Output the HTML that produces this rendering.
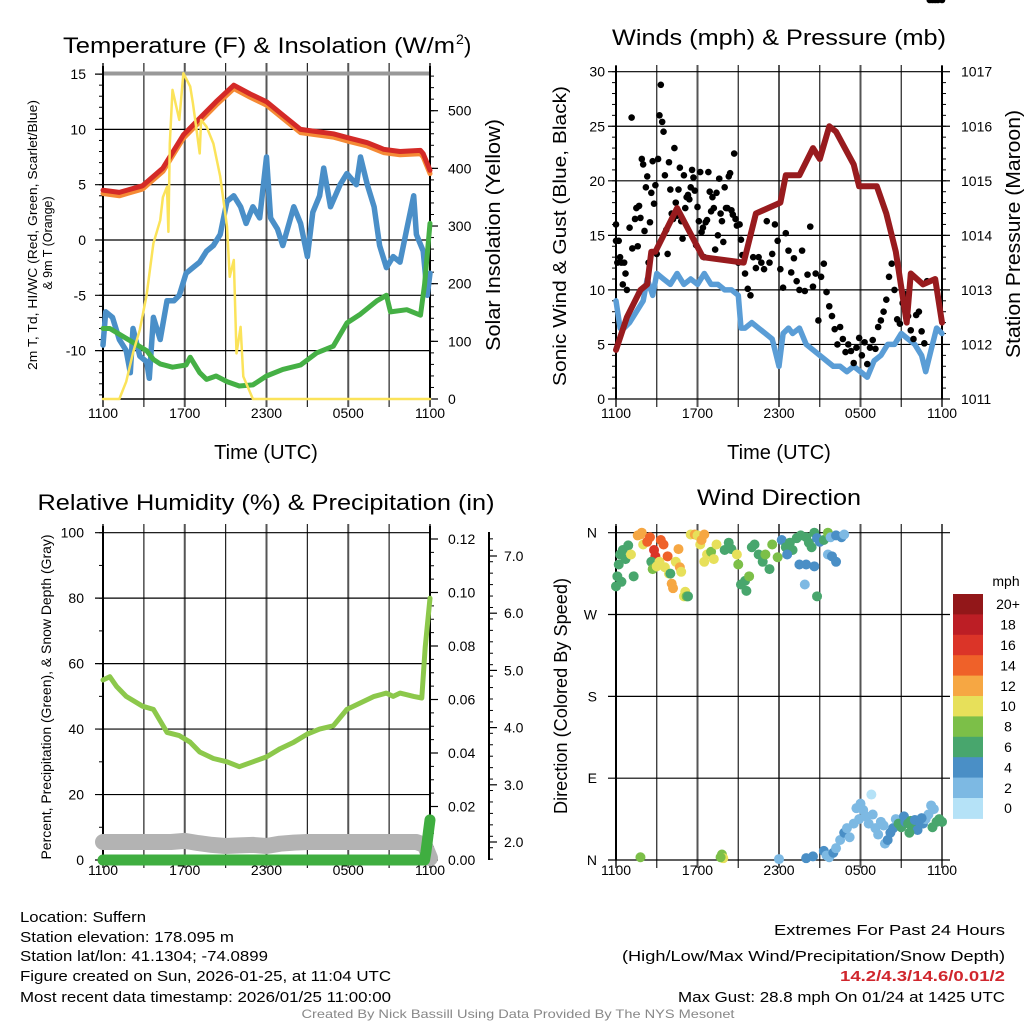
<!DOCTYPE html>
<html><head><meta charset="utf-8"><style>
html,body{margin:0;padding:0;background:#fff;}
svg{display:block;font-family:"Liberation Sans",sans-serif;}
</style></head><body>
<svg id="fig" width="1024" height="1024" viewBox="0 0 1024 1024" xmlns="http://www.w3.org/2000/svg">
<rect width="1024" height="1024" fill="#fff"/>
<g>
<text x="63" y="53" font-size="22" textLength="392" lengthAdjust="spacingAndGlyphs">Temperature (F) &amp; Insolation (W/m</text>
<text x="456" y="44" font-size="14">2</text>
<text x="464" y="53" font-size="22">)</text>
</g>
<text x="779" y="45" font-size="22" text-anchor="middle" textLength="334" lengthAdjust="spacingAndGlyphs">Winds (mph) &amp; Pressure (mb)</text>
<text x="266" y="510" font-size="22" text-anchor="middle" textLength="457" lengthAdjust="spacingAndGlyphs">Relative Humidity (%) &amp; Precipitation (in)</text>
<text x="779" y="505" font-size="22" text-anchor="middle" textLength="164" lengthAdjust="spacingAndGlyphs">Wind Direction</text>

<text x="266" y="459" font-size="20" text-anchor="middle">Time (UTC)</text>
<text x="779" y="459" font-size="20" text-anchor="middle">Time (UTC)</text>

<text transform="translate(37,235) rotate(-90)" font-size="12.5" text-anchor="middle" textLength="270" lengthAdjust="spacingAndGlyphs">2m T, Td, HI/WC (Red, Green, Scarlet/Blue)</text>
<text transform="translate(52,243) rotate(-90)" font-size="12.5" text-anchor="middle">&amp; 9m T (Orange)</text>
<text transform="translate(500,235) rotate(-90)" font-size="20" text-anchor="middle" textLength="232" lengthAdjust="spacingAndGlyphs">Solar Insolation (Yellow)</text>
<text transform="translate(566,236) rotate(-90)" font-size="18" text-anchor="middle" textLength="300" lengthAdjust="spacingAndGlyphs">Sonic Wind &amp; Gust (Blue, Black)</text>
<text transform="translate(1020,234) rotate(-90)" font-size="20" text-anchor="middle" textLength="248" lengthAdjust="spacingAndGlyphs">Station Pressure (Maroon)</text>
<text transform="translate(51,697) rotate(-90)" font-size="13.5" text-anchor="middle" textLength="325" lengthAdjust="spacingAndGlyphs">Percent, Precipitation (Green), &amp; Snow Depth (Gray)</text>
<text transform="translate(567,696) rotate(-90)" font-size="18" text-anchor="middle" textLength="236" lengthAdjust="spacingAndGlyphs">Direction (Colored By Speed)</text>

<g id="panels"></g>

<g font-size="15">
<text x="20" y="922" textLength="126" lengthAdjust="spacingAndGlyphs">Location: Suffern</text>
<text x="20" y="942" textLength="214" lengthAdjust="spacingAndGlyphs">Station elevation: 178.095 m</text>
<text x="20" y="961" textLength="248" lengthAdjust="spacingAndGlyphs">Station lat/lon: 41.1304; -74.0899</text>
<text x="20" y="981" textLength="371" lengthAdjust="spacingAndGlyphs">Figure created on Sun, 2026-01-25, at 11:04 UTC</text>
<text x="20" y="1002" textLength="371" lengthAdjust="spacingAndGlyphs">Most recent data timestamp: 2026/01/25 11:00:00</text>
</g>
<g font-size="15" text-anchor="end">
<text x="1005" y="935" textLength="231" lengthAdjust="spacingAndGlyphs">Extremes For Past 24 Hours</text>
<text x="1005" y="961" textLength="383" lengthAdjust="spacingAndGlyphs">(High/Low/Max Wind/Precipitation/Snow Depth)</text>
<text x="1005" y="981" fill="#d0262d" font-weight="bold" textLength="165" lengthAdjust="spacingAndGlyphs">14.2/4.3/14.6/0.01/2</text>
<text x="1005" y="1002" textLength="327" lengthAdjust="spacingAndGlyphs">Max Gust: 28.8 mph On 01/24 at 1425 UTC</text>
</g>
<text x="518" y="1018" font-size="12" fill="#888" text-anchor="middle" textLength="433" lengthAdjust="spacingAndGlyphs">Created By Nick Bassill Using Data Provided By The NYS Mesonet</text>
</svg>
<script>
// ---- Temperature panel data (hours since 1100 UTC) ----
const tempHours = [0,1.2,2.9,4.4,5.9,7.1,8.3,9.6,10.8,12,13.2,14.5,15.7,16.9,18.1,19.4,20.6,21.8,23.3,23.5,24];
const tempValues = [4.5,4.3,4.9,6.5,9.5,11,12.5,14,13.2,12.5,11.3,10,9.8,9.6,9.2,8.8,8.2,8.0,8.1,7.8,6.3];
const temp9mValues = [4.2,4.0,4.6,6.2,9.2,10.7,12.2,13.7,12.9,12.2,11.0,9.7,9.5,9.3,8.9,8.5,7.9,7.7,7.8,7.5,6.0];
const dewHours = [0,0.5,3.2,3.7,4.2,5.1,6.1,6.4,7.1,7.6,8.3,9.1,10,11,12,13.2,14.5,15.7,16.9,17.9,18.9,20.1,20.8,21.1,22.3,23.3,23.6,24];
const dewValues = [-8,-8,-10,-10.8,-11.2,-11.5,-11.3,-10.6,-12,-12.6,-12.3,-12.8,-13.2,-13.1,-12.3,-11.7,-11.3,-10.2,-9.6,-7.5,-6.7,-5.5,-5,-6.5,-6.3,-6.8,-4,1.5];
const wcHours = [0,0.2,0.7,1.2,1.7,2.0,2.2,2.7,3.2,3.4,3.7,4.2,4.7,5.2,5.6,6.1,6.6,7.1,7.6,8.1,8.6,9.1,9.6,10.1,10.5,11,11.5,12,12.3,12.8,13.2,14,14.5,15,15.4,15.9,16.2,16.7,17.4,17.9,18.6,18.9,19.4,19.9,20.3,20.8,21.3,21.8,22.3,22.8,23,23.5,23.8,24];
const wcValues = [-9.5,-6.5,-7,-9,-10,-12,-8,-10.5,-11,-12.5,-7,-9,-5.5,-5.5,-5,-3,-2.5,-2,-1,-0.5,0.5,3.5,4,3,1.5,3,2,7.5,2,1,-0.5,3,1.5,-1.5,2.5,4,6.5,3,5,6,5,7.5,5,3,-0.5,-2.5,-1.5,-2,1,4,0.5,-1,-5,-3];
const solarHours = [0,1.2,1.7,2.2,2.7,3.2,3.7,4.2,4.4,4.7,4.8,4.9,5.1,5.6,5.9,6.4,6.6,6.9,7.1,7.2,7.6,8.1,8.6,9.1,9.3,9.6,9.8,10.1,10.3,11,24];
const solarValues = [0,0,30,80,120,180,270,310,350,368,290,443,536,484,565,542,513,461,426,484,472,443,386,299,212,241,79,125,39,0,0];
const tempTicks = [15,10,5,0,-5,-10];
const solarTicks = [0,100,200,300,400,500];
const timeLabels = ["1100","1700","2300","0500","1100"];

// ---- Wind panel data ----
const windHours = [0,0.3,0.6,1,1.5,2,2.3,2.7,3,3.5,4,4.5,5,5.5,6,6.5,7,7.5,8,8.5,9,9.2,9.5,10,10.5,11,11.5,12,12.3,12.7,13,13.5,14,14.5,15,15.5,16,16.5,17,17.5,18,18.5,19,19.5,20,20.5,21,21.5,22,22.5,22.8,23.2,23.6,24];
const windValues = [9,6.5,6.5,7,8,9,11,9.5,11.5,11,10.5,11.5,10.5,11,10.5,11.5,10.5,10.5,10,10,9.5,6.5,6.5,7,6.5,6,5.5,3,6,6.5,6,6.5,5,4.5,4,3.5,3,3,2.5,3,2.5,2,3.5,4,5,5,6,5.5,5,4,2.5,4.5,6.5,6];
const pressHours = [0,0.8,1.8,2.3,2.6,2.9,4.5,6.4,9.4,10.3,12.1,12.5,13.5,14.5,15,15.7,16.2,17.5,17.9,19.2,19.9,20.6,21.4,21.7,22.6,23.5,24];
const pressValues = [1011.9,1012.5,1013.0,1013.1,1013.7,1013.7,1014.5,1013.6,1013.5,1014.4,1014.6,1015.1,1015.1,1015.6,1015.4,1016.0,1015.9,1015.3,1014.9,1014.9,1014.4,1013.7,1012.4,1013.3,1013.1,1013.2,1012.4];
const gustHours = [0,0,0.1,0.2,0.3,0.4,0.5,0.6,0.7,0.8,1.15,1.0,1.2,1.4,1.5,1.6,1.7,1.8,1.9,2.0,2.1,2.2,2.3,2.4,2.5,2.6,2.7,2.8,2.9,3.0,3.1,3.2,3.3,3.4,3.5,3.6,3.7,3.8,3.9,4.0,4.1,4.2,4.3,4.4,4.5,4.6,4.7,4.8,4.9,5.0,5.1,5.2,5.3,5.4,5.5,5.6,5.7,5.8,5.9,6.0,6.1,6.2,6.3,6.4,6.5,6.6,6.7,6.8,6.9,7.0,7.1,7.2,7.3,7.4,7.5,7.6,7.7,7.8,7.9,8.0,8.1,8.2,8.3,8.4,8.5,8.6,8.7,8.8,8.9,9.0,9.1,9.2,9.3,9.5,9.7,9.9,10.1,10.3,10.5,10.7,10.9,11.1,11.3,11.5,11.7,11.9,12.1,12.3,12.5,12.7,12.9,13.1,13.3,13.5,13.7,13.9,14.1,14.3,14.5,14.7,14.9,15.1,15.3,15.5,15.7,15.9,16.1,16.3,16.5,16.7,16.9,17.1,17.3,17.5,17.7,17.9,18.1,18.3,18.5,18.7,18.9,19.1,19.3,19.5,19.7,19.9,20.1,20.3,20.5,20.7,20.9,21.1,21.3,21.5,21.7,21.9,22.1,22.3,22.5,22.7,22.9,23.1,23.3,23.5,23.7,24];
const gustValues = [16,14.5,12.5,14.5,13,12.5,10.5,12.5,11.5,10,25.8,15.7,13.8,16.5,17.5,14,17.7,16.6,22,21.5,15.4,19.4,20.4,12.5,16.2,18.9,21.8,17.9,19.6,13.3,22,26,28.8,25.4,24.5,20.5,15.5,13.3,21.7,19.2,17,16.5,23,18,16.8,19.2,21.2,16.3,14.7,20.5,17.5,18.5,18.7,18.3,19.4,21,20.3,19.1,14.1,17.6,16.3,20.8,15.3,15.7,13,16.2,16.4,20.8,19,17.2,18.5,17.5,13.7,18.9,15,20.2,17,16.3,14.4,19.4,17.5,17.5,20.4,20.7,17.3,16.9,22.5,16.5,15.9,12.5,16,14.6,13.2,11.5,10.1,9.5,13,12,13,12.5,11.9,16.3,12.5,13.3,16,14.5,11.9,10.2,15.2,13.6,11.6,12.9,10.8,10,13.6,9.9,11.4,15.8,10.3,11.5,7.2,11.2,12.4,9.8,8.5,7.6,6.4,5.0,6.6,5.5,4.3,5.0,4.4,3.3,4.7,5.6,4.0,5.2,3.2,4.7,5.4,4.6,6.6,7.2,8.0,9.1,11.2,12.4,10.0,7.3,6.9,8.8,9.6,7.6,6.3,5.5,7.7,8,6.2,5.1,10.8];
const windTicks = [0,5,10,15,20,25,30];
const pressTicks = [1011,1012,1013,1014,1015,1016,1017];

// ---- Humidity panel data ----
const rhHours = [0,0.5,1,1.7,2.9,3.7,4.7,5.6,6.4,7.1,8.1,9.1,10,11,12,13,14,15,15.9,16.9,17.9,18.9,19.9,20.8,21.3,21.8,22.8,23.4,23.65,24];
const rhValues = [55,56,53,50,47,46,39,38,36,33,31,30,28.5,30,31.5,34,36,38.5,40,41,46,48,50,51,50,51,50,49.5,65,80];
const snowHours = [0,1,2,3,4,5,6,7,8,9,10,11,12,13,14,15,16,17,18,19,20,21,22,23,23.6,24];
const snowValues = [2.0,2.0,2.0,2.0,2.0,2.0,2.02,1.98,1.95,1.93,1.94,1.95,1.93,1.97,1.99,2.0,2.0,2.0,2.0,2.0,2.0,2.0,2.0,2.0,1.95,1.72];
const precipHours = [0,23.6,23.7,23.8,23.9,24];
const precipValues = [0,0,0.003,0.007,0.011,0.015];
const rhTicks = [0,20,40,60,80,100];
const precipTicks = [0,0.02,0.04,0.06,0.08,0.10,0.12];
const precipLabels = ["0.00","0.02","0.04","0.06","0.08","0.10","0.12"];
const snowTicks = [2,3,4,5,6,7];
const snowLabels = ["2.0","3.0","4.0","5.0","6.0","7.0"];

// ---- Wind direction data ----
const dirHours = [0,0.1,0.2,0.3,0.5,0.7,0.9,0.4,1.3,1.1,1.6,1.8,1.9,2.0,2.3,2.5,2.8,2.9,2.6,2.7,3.0,3.2,3.3,3.5,3.6,3.8,3.9,4.1,4.2,4.0,4.4,4.6,4.7,4.8,5.0,5.1,5.2,5.3,5.5,5.8,6.0,6.2,6.3,6.5,6.7,6.5,7.0,7.2,7.4,8.0,8.3,8.5,8.9,9.0,9.2,9.5,9.6,9.8,10.0,10.2,10.5,10.8,11.0,11.3,11.5,11.9,12.2,12.5,12.8,13.0,13.3,13.6,14.0,14.2,14.4,14.6,14.8,15.0,15.3,15.6,15.8,16.2,16.6,16.8,14.6,14.0,13.9,14.8,15.6,15.9,16.2,13.5,12.6,15.3,15.5,15.7,16.0,16.2,16.5,16.8,17.0,17.2,17.5,17.7,17.9,18.0,18.2,18.4,18.6,18.8,18.9,19.1,19.3,19.5,19.7,19.8,20.0,20.2,20.4,20.6,20.8,21.0,21.2,21.3,21.5,21.7,21.9,22.0,22.2,22.4,22.6,22.8,23.0,23.2,23.4,23.6,23.8,24.0,23.3,22.5,21.6,1.8,7.8,7.9,7.7,12.0,14.0,14.5];
const dirValues = [301,312,325,336,341,331,346,306,312,336,357,358,360,347,350,355,341,334,328,320,323,328,352,347,322,334,315,304,299,315,328,342,322,317,290,295,290,290,358,358,357,347,352,358,336,328,339,331,347,341,349,342,336,325,303,307,296,312,344,347,336,328,336,320,347,333,352,344,349,341,354,357,355,349,344,360,354,350,352,360,355,357,355,358,323,325,303,290,336,334,328,325,336,10,5,3,8,13,22,30,35,25,40,57,45,62,55,48,40,72,50,35,28,42,38,18,22,30,35,45,40,36,48,42,40,43,38,44,33,41,40,45,50,60,56,42,45,42,36,46,30,3,6,2,3,1,2,4];
const dirSpeeds = [6,7,6,7,6,7,6,7,6,10,12,12,13,10,14,15,16,16,7,8,10,11,14,14,10,14,11,12,12,7,11,12,12,11,10,10,8,7,11,12,11,10,13,13,11,10,9,10,11,7,6,7,10,8,6,7,7,8,6,7,6,7,8,6,8,8,5,6,6,7,6,6,6,6,6,7,5,4,7,8,3,4,4,2,4,4,2,6,2,4,4,4,4,4,3,2,4,3,3,4,3,2,2,2,3,2,2,3,2,1,3,2,2,3,3,3,4,4,4,3,6,6,4,5,6,6,6,4,4,5,4,3,3,3,3,6,6,6,6,5,6,8,8,10,8,3,4,4];
const dirTicks = [360,270,180,90,0];
const dirLabels = ["N","W","S","E","N"];
const speedBins = ["0","2","4","6","8","10","12","14","16","18","20+"];
const speedColors = ["#b5e2f7","#7db9e3","#4a8fc6","#48a66d","#7cbf48","#e7e05a","#f6a743","#ef6129","#db3428","#bc1e25","#921719"];

const NS = "http://www.w3.org/2000/svg";
const root = document.getElementById("panels");
function mk(tag, attrs, parent) {
  const e = document.createElementNS(NS, tag);
  for (const k in attrs) e.setAttribute(k, attrs[k]);
  (parent || root).appendChild(e);
  return e;
}
function lin(d0, d1, r0, r1) { return v => r0 + (v - d0) / (d1 - d0) * (r1 - r0); }

function drawTimeGrid(g, x0, x1, yTop, yBot, labelY) {
  const sx = lin(0, 24, x0, x1);
  for (let i = 0; i <= 8; i++) {
    const x = sx(i * 3);
    const l = mk("line", {x1: x, x2: x, y1: yTop, y2: yBot + 8, stroke: (i % 2) ? "#222" : "#555", "stroke-width": (i % 2) ? 1.2 : 2}, g);
    
    
  }
  for (let i = 0; i < timeLabels.length; i++) {
    const t = mk("text", {x: sx(i * 6), y: labelY, "font-size": 14, "text-anchor": "middle"}, g);
    t.textContent = timeLabels[i];
    
    
  }
  return sx;
}
function hLine(g, x0, x1, y, color, w, name) {
  const l = mk("line", {x1: x0, x2: x1, y1: y, y2: y, stroke: color, "stroke-width": w}, g);
  
  
  return l;
}
function tickLabel(g, x, y, txt, anchor, name) {
  const t = mk("text", {x: x, y: y + 5, "font-size": 14, "text-anchor": anchor}, g);
  t.textContent = txt;
  
  
}
function series(g, hs, vs, sx, sy, color, w, name) {
  const pts = hs.map((h, i) => sx(h).toFixed(1) + "," + sy(vs[i]).toFixed(1)).join(" ");
  const p = mk("polyline", {points: pts, fill: "none", stroke: color, "stroke-width": w, "stroke-linejoin": "round", "stroke-linecap": "round"}, g);
  
  
  return p;
}
function vAxis(g, x, y0, y1, name) {
  const l = mk("line", {x1: x, x2: x, y1: y0, y2: y1, stroke: "#000", "stroke-width": 2}, g);
  
  
}

// ===== Panel 1: temperature =====
(function () {
  const g = mk("g", {});
  
  
  const x0 = 103, x1 = 430, yb = 399;
  const sy = lin(0, 5, 240, 184.7);
  const sIns = lin(0, 500, 399, 110.7);
  const sx = drawTimeGrid(g, x0, x1, 63, yb, 418);
  tempTicks.forEach(v => {
    hLine(g, x0 - 8, x1, sy(v), "#000", 1.2, "temperature-gridline");
    tickLabel(g, 86, sy(v), String(v), "end", "temperature-tick-label");
  });
  for (let v = -14; v <= 15; v++) hLine(g, x0 - 4, x0, sy(v), "#000", 1, "temperature-minor-tick");
  hLine(g, x0, x1, 73.5, "#999", 4, "top-border");
  hLine(g, x0, x1, yb, "#000", 1.5, "bottom-border");
  solarTicks.forEach(v => {
    hLine(g, x1, x1 + 8, sIns(v), "#000", 1.2, "insolation-tick");
    tickLabel(g, 448, sIns(v), String(v), "start", "insolation-tick-label");
  });
  for (let v = 0; v <= 560; v += 20) hLine(g, x1, x1 + 4, sIns(v), "#000", 1, "insolation-minor-tick");
  vAxis(g, x0, 66, yb, "temperature-y-axis");
  vAxis(g, x1, 66, yb, "insolation-y-axis");
  series(g, wcHours, wcValues, sx, sy, "#4a8fc8", 5.5, "windchill-line");
  series(g, dewHours, dewValues, sx, sy, "#45b045", 5, "dewpoint-line");
  series(g, tempHours, temp9mValues, sx, sy, "#f58a35", 5, "temp-9m-line");
  series(g, tempHours, tempValues, sx, sy, "#d42a27", 5, "temp-2m-line");
  series(g, solarHours, solarValues, sx, sIns, "#fbe35a", 2.5, "insolation-line");
})();

// ===== Panel 2: winds =====
(function () {
  const g = mk("g", {});
  
  
  const x0 = 616, x1 = 942, yb = 399;
  const sy = lin(0, 30, 399, 71.7);
  const sp = lin(1011, 1017, 399, 71.7);
  const sx = drawTimeGrid(g, x0, x1, 65, yb, 418);
  windTicks.forEach(v => {
    hLine(g, x0 - 8, x1, sy(v), "#000", 1.2, "wind-gridline");
    tickLabel(g, 605, sy(v), String(v), "end", "wind-tick-label");
  });
  for (let v = 0; v <= 30; v++) hLine(g, x0 - 4, x0, sy(v), "#000", 1, "wind-minor-tick");
  pressTicks.forEach(v => {
    hLine(g, x1, x1 + 8, sp(v), "#000", 1.2, "pressure-tick");
    tickLabel(g, 961, sp(v), String(v), "start", "pressure-tick-label");
  });
  for (let v = 1011; v <= 1017; v += 0.2) hLine(g, x1, x1 + 4, sp(v), "#000", 1, "pressure-minor-tick");
  vAxis(g, x0, 66, yb, "wind-y-axis");
  vAxis(g, x1, 66, yb, "pressure-y-axis");
  series(g, windHours, windValues, sx, sy, "#5a9dd6", 5.5, "wind-speed-line");
  gustHours.forEach((h, i) => {
    const c = mk("circle", {cx: sx(h), cy: sy(gustValues[i]), r: 3.3, fill: "#000"}, g);
    
    
  });
  series(g, pressHours, pressValues, sx, sp, "#981b1e", 6, "pressure-line");
})();

// ===== Panel 3: humidity =====
(function () {
  const g = mk("g", {});
  
  
  const x0 = 103, x1 = 430, yb = 860;
  const sy = lin(0, 100, 860, 532.7);
  const spr = lin(0, 0.12, 860, 539);
  const ssn = lin(2, 7, 842, 556);
  const sx = drawTimeGrid(g, x0, x1, 524, yb, 875);
  rhTicks.forEach(v => {
    hLine(g, x0 - 8, x1, sy(v), "#000", 1.2, "humidity-gridline");
    tickLabel(g, 84, sy(v), String(v), "end", "humidity-tick-label");
  });
  for (let v = 0; v <= 100; v += 10) hLine(g, x0 - 4, x0, sy(v), "#000", 1, "humidity-minor-tick");
  precipTicks.forEach((v, i) => {
    hLine(g, x1, x1 + 8, spr(v), "#000", 1.2, "precip-tick");
    tickLabel(g, 448, spr(v), precipLabels[i], "start", "precip-tick-label");
  });
  for (let v = 0; v <= 0.12; v += 0.005) hLine(g, x1, x1 + 4, spr(v), "#000", 1, "precip-minor-tick");
  vAxis(g, 489, 532, 860, "snow-depth-y-axis");
  snowTicks.forEach((v, i) => {
    hLine(g, 489, 497, ssn(v), "#000", 1.2, "snow-tick");
    tickLabel(g, 504, ssn(v), snowLabels[i], "start", "snow-tick-label");
  });
  for (let v = 1.7; v <= 7.4; v += 0.2) hLine(g, 489, 493, ssn(v), "#000", 1, "snow-minor-tick");
  vAxis(g, x0, 526, yb, "humidity-y-axis");
  vAxis(g, x1, 526, yb, "precip-y-axis");
  series(g, snowHours, snowValues, sx, ssn, "#b3b3b3", 16, "snow-depth-line");
  series(g, precipHours, precipValues, sx, spr, "#3fae40", 11, "precipitation-line");
  series(g, rhHours, rhValues, sx, sy, "#8cc84b", 5, "humidity-line");
})();

// ===== Panel 4: wind direction =====
(function () {
  const g = mk("g", {});
  
  
  const x0 = 616, x1 = 942;
  const sy = lin(0, 360, 860, 532.7);
  const sx = drawTimeGrid(g, x0, x1, 524, 860, 875);
  dirTicks.forEach((v, i) => {
    hLine(g, x0 - 8, x1 + 8, sy(v), "#000", 1.2, "direction-gridline");
    tickLabel(g, 597, sy(v), dirLabels[i], "end", "direction-tick-label");
  });
  vAxis(g, x0, 526, 860, "direction-y-axis");
  dirHours.forEach((h, i) => {
    const bin = Math.min(10, Math.floor(dirSpeeds[i] / 2));
    const c = mk("circle", {cx: sx(h), cy: sy(dirValues[i]), r: 5, fill: speedColors[bin]}, g);
    
    
  });
  const lg = mk("g", {}, g);
  
  
  const t = mk("text", {x: 1006, y: 586, "font-size": 14, "text-anchor": "middle"}, lg);
  t.textContent = "mph";
  
  
  const top = 594, h = 20.4;
  for (let i = 0; i < speedBins.length; i++) {
    const k = speedBins.length - 1 - i;
    const r = mk("rect", {x: 953, y: top + i * h, width: 30, height: h + 0.5, fill: speedColors[k]}, lg);
    
    
    const tl = mk("text", {x: 1008, y: top + i * h + h / 2 + 5, "font-size": 14, "text-anchor": "middle"}, lg);
    tl.textContent = speedBins[k];
    
    
  }
})();
</script>
</body></html>
